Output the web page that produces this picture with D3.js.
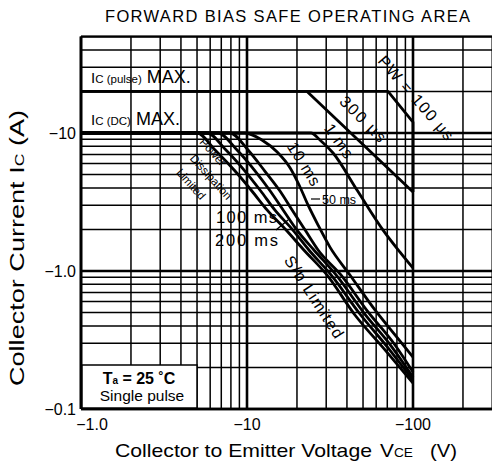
<!DOCTYPE html>
<html><head><meta charset="utf-8">
<script src="https://cdn.jsdelivr.net/npm/d3@7"></script>
<style>
html,body{margin:0;padding:0;background:#fff;}
svg{display:block;font-family:"Liberation Sans",Arial,Helvetica,sans-serif;}
</style></head>
<body><svg id="c" width="492" height="472"></svg>
<script>
// ---- data (magnitudes; chart labels use negative signs) ----
const xTicks = [1, 10, 100];
const xTickLabels = ["\u22121.0", "\u221210", "\u2212100"];
const yTicks = [0.1, 1, 10];
const yTickLabels = ["\u22120.1", "\u22121.0", "\u221210"];
// curve points: VCE (V), IC (A)
const v100us = [1, 70.7, 100, 100];
const i100us = [20, 20, 12, 3.73];
const v300us = [1, 23, 100];
const i300us = [20, 20, 3.73];
const v1ms = [1, 24.3, 27.5, 33.0, 46.0, 66.0, 83.5, 100];
const i1ms = [10, 10, 8.9, 7.16, 3.86, 1.98, 1.37, 1.05];
const v10ms = [1, 9.72, 12.3, 15.2, 18.2, 20.6, 23.3, 26.8, 31.6, 41.7, 59.0, 77.9, 100];
const i10ms = [10, 10, 8.9, 7.28, 5.58, 4.2, 3.01, 2.15, 1.49, 0.936, 0.522, 0.344, 0.238];
const v50ms = [1, 7.9, 10.14, 12.8, 15.8, 18.7, 22.4, 26.8, 36.8, 53.6, 77.9, 100];
const i50ms = [10, 10, 7.53, 5.3, 3.8, 2.77, 1.98, 1.42, 0.936, 0.505, 0.291, 0.185];
const v100ms = [1, 6.69, 8.71, 11.2, 13.8, 16.5, 20.0, 25.3, 34.4, 50.7, 74.7, 100];
const i100ms = [10, 10, 7.53, 5.3, 3.8, 2.77, 1.98, 1.42, 0.936, 0.496, 0.281, 0.17];
const v200ms = [1, 5.74, 7.47, 9.72, 12.1, 14.7, 18.9, 23.6, 32.1, 47.9, 71.7, 100];
const i200ms = [10, 10, 7.53, 5.3, 3.8, 2.77, 1.98, 1.42, 0.936, 0.488, 0.272, 0.162];
const vDC = [1, 5.0, 6.42, 8.47, 10.7, 13.2, 17.2, 22.0, 30.3, 44.7, 67.8, 100];
const iDC = [10, 10, 7.53, 5.3, 3.8, 2.77, 1.98, 1.42, 0.936, 0.48, 0.268, 0.154];

const svg = d3.select("#c");
const L = 81, B = 409;
const x = d3.scaleLog().domain([1, 300]).range([L, L + 166 * Math.log10(300)]);
const y = d3.scaleLog().domain([0.1, 50]).range([B, B - 138 * Math.log10(500)]);
const T = y(50), R = 492;

// grid
const gx = [], gy = [];
for (let d = 1; d <= 100; d *= 10) for (let k = 1; k <= 9; k++) { const v = d * k; if (v <= 300) gx.push(v); }
for (let d = 0.1; d <= 10; d *= 10) for (let k = 1; k <= 9; k++) { const v = +(d * k).toPrecision(3); if (v <= 50) gy.push(v); }
const isDec = v => Math.abs(Math.log10(v) - Math.round(Math.log10(v))) < 1e-6;
const g = svg.append("g");
g.selectAll(".vx").data(gx).join("line")
  .attr("x1", d => x(d)).attr("x2", d => x(d)).attr("y1", T).attr("y2", B)
  .attr("stroke", "#000").attr("stroke-width", d => isDec(d) ? 2.6 : 1.5);
g.selectAll(".hy").data(gy).join("line")
  .attr("y1", d => y(d)).attr("y2", d => y(d)).attr("x1", L).attr("x2", R)
  .attr("stroke", "#000").attr("stroke-width", d => isDec(d) ? 2.6 : 1.5);
// frame
svg.append("line").attr("x1", L).attr("x2", R).attr("y1", T).attr("y2", T).attr("stroke", "#000").attr("stroke-width", 2.2);
svg.append("line").attr("x1", L).attr("x2", L).attr("y1", T).attr("y2", B).attr("stroke", "#000").attr("stroke-width", 2.6);
svg.append("line").attr("x1", L).attr("x2", R).attr("y1", B).attr("y2", B).attr("stroke", "#000").attr("stroke-width", 2.6);

// curves
const line = d3.line().x(d => x(d[0])).y(d => y(d[1])).curve(d3.curveMonotoneX);
const lineLin = d3.line().x(d => x(d[0])).y(d => y(d[1]));
const curves = [[v100us, i100us, false], [v300us, i300us, false], [v1ms, i1ms, true], [v10ms, i10ms, true],
  [v50ms, i50ms, true], [v100ms, i100ms, true], [v200ms, i200ms, true], [vDC, iDC, true]];
curves.forEach(([vs, is, smooth]) => {
  const pts = vs.map((v, i) => [v, is[i]]);
  svg.append("path").attr("d", (smooth ? line : lineLin)(pts))
    .attr("fill", "none").attr("stroke", "#000").attr("stroke-width", 2.8).attr("stroke-linejoin", "round");
});

// tick labels
const xOff = [11, 0, 0];
svg.selectAll(".xt").data(xTicks).join("text")
  .attr("x", (d, i) => x(d) + xOff[i]).attr("y", 430).attr("text-anchor", "middle").attr("font-size", 16).text((d, i) => xTickLabels[i]);
svg.selectAll(".yt").data(yTicks).join("text")
  .attr("x", 76).attr("y", d => y(d) + 6).attr("text-anchor", "end").attr("font-size", 16).text((d, i) => yTickLabels[i]);

// titles
svg.append("text").attr("x", 105).attr("y", 22).attr("font-size", 16.5)
  .attr("textLength", 365).attr("lengthAdjust", "spacing")
  .text("FORWARD BIAS SAFE OPERATING AREA");
// x title in pieces
svg.append("text").attr("x", 115).attr("y", 457).attr("font-size", 19)
  .attr("textLength", 257).attr("lengthAdjust", "spacingAndGlyphs").text("Collector to Emitter Voltage");
const vce = svg.append("text").attr("x", 380).attr("y", 457).attr("font-size", 19)
  .attr("textLength", 33).attr("lengthAdjust", "spacingAndGlyphs");
vce.append("tspan").text("V");
vce.append("tspan").attr("font-size", 12.5).text("CE");
svg.append("text").attr("x", 430).attr("y", 457).attr("font-size", 19)
  .attr("textLength", 27).attr("lengthAdjust", "spacingAndGlyphs").text("(V)");
// y title
const yt = svg.append("text").attr("transform", "translate(24,386) rotate(-90)").attr("font-size", 20)
  .attr("textLength", 276).attr("lengthAdjust", "spacingAndGlyphs");
yt.append("tspan").text("Collector Current  I");
yt.append("tspan").attr("font-size", 13).text("C");
yt.append("tspan").text("  (A)");

// Ic labels
function icLabel(yy, sub) {
  const t = svg.append("text").attr("x", 91).attr("y", yy).attr("font-size", 15);
  t.append("tspan").attr("font-size", 15).text("I");
  t.append("tspan").attr("font-size", 11.5).text("C (" + sub + ")");
  t.append("tspan").attr("font-size", 18).text(" MAX.");
}
icLabel(83, "pulse");
icLabel(125, "DC");

// box
svg.append("rect").attr("x", L + 1).attr("y", 365).attr("width", 115).attr("height", B - 366).attr("fill", "#fff").attr("stroke", "#000").attr("stroke-width", 1.5);
const ta = svg.append("text").attr("x", 139).attr("y", 384).attr("text-anchor", "middle").attr("font-size", 16).attr("font-weight", "bold");
ta.append("tspan").text("T");
ta.append("tspan").attr("font-size", 10).text("a");
ta.append("tspan").text(" = 25 \u02DAC");
svg.append("text").attr("x", 142).attr("y", 401).attr("text-anchor", "middle").attr("font-size", 15.5).text("Single pulse");

// curve labels
function rot(txt, cx, cy, ang, fs, len) {
  const t = svg.append("text").attr("transform", `translate(${cx},${cy}) rotate(${ang})`)
    .attr("text-anchor", "middle").attr("dominant-baseline", "central").attr("font-size", fs).text(txt);
  if (len) t.attr("textLength", len).attr("lengthAdjust", "spacing");
  return t;
}
rot("PW = 100 \u00B5s", 416, 98, 49, 16, 106);
rot("300 \u00B5s", 363, 119, 45, 16, 58);
rot("1 ms", 339, 141, 55, 16, 38);
rot("10 ms", 304, 164, 58, 16, 48);
rot("S/b Limited", 314, 297, 57, 16, 95);
rot("Power", 213, 152, 48, 11.5);
rot("Dissipation", 211, 177, 48, 11.5);
rot("Limited", 191, 184, 48, 11.5);
svg.append("text").attr("x", 322).attr("y", 204).attr("font-size", 12.5).text("50 ms");
svg.append("line").attr("x1", 311).attr("y1", 199).attr("x2", 320).attr("y2", 199).attr("stroke", "#000").attr("stroke-width", 1.2);
svg.append("text").attr("x", 216).attr("y", 223).attr("font-size", 16.5).attr("textLength", 61).attr("lengthAdjust", "spacing").text("100 ms");
svg.append("text").attr("x", 215).attr("y", 246).attr("font-size", 16.5).attr("textLength", 63).attr("lengthAdjust", "spacing").text("200 ms");
svg.append("line").attr("x1", 276).attr("y1", 230).attr("x2", 288).attr("y2", 220).attr("stroke", "#000").attr("stroke-width", 1.5);
</script></body></html>
